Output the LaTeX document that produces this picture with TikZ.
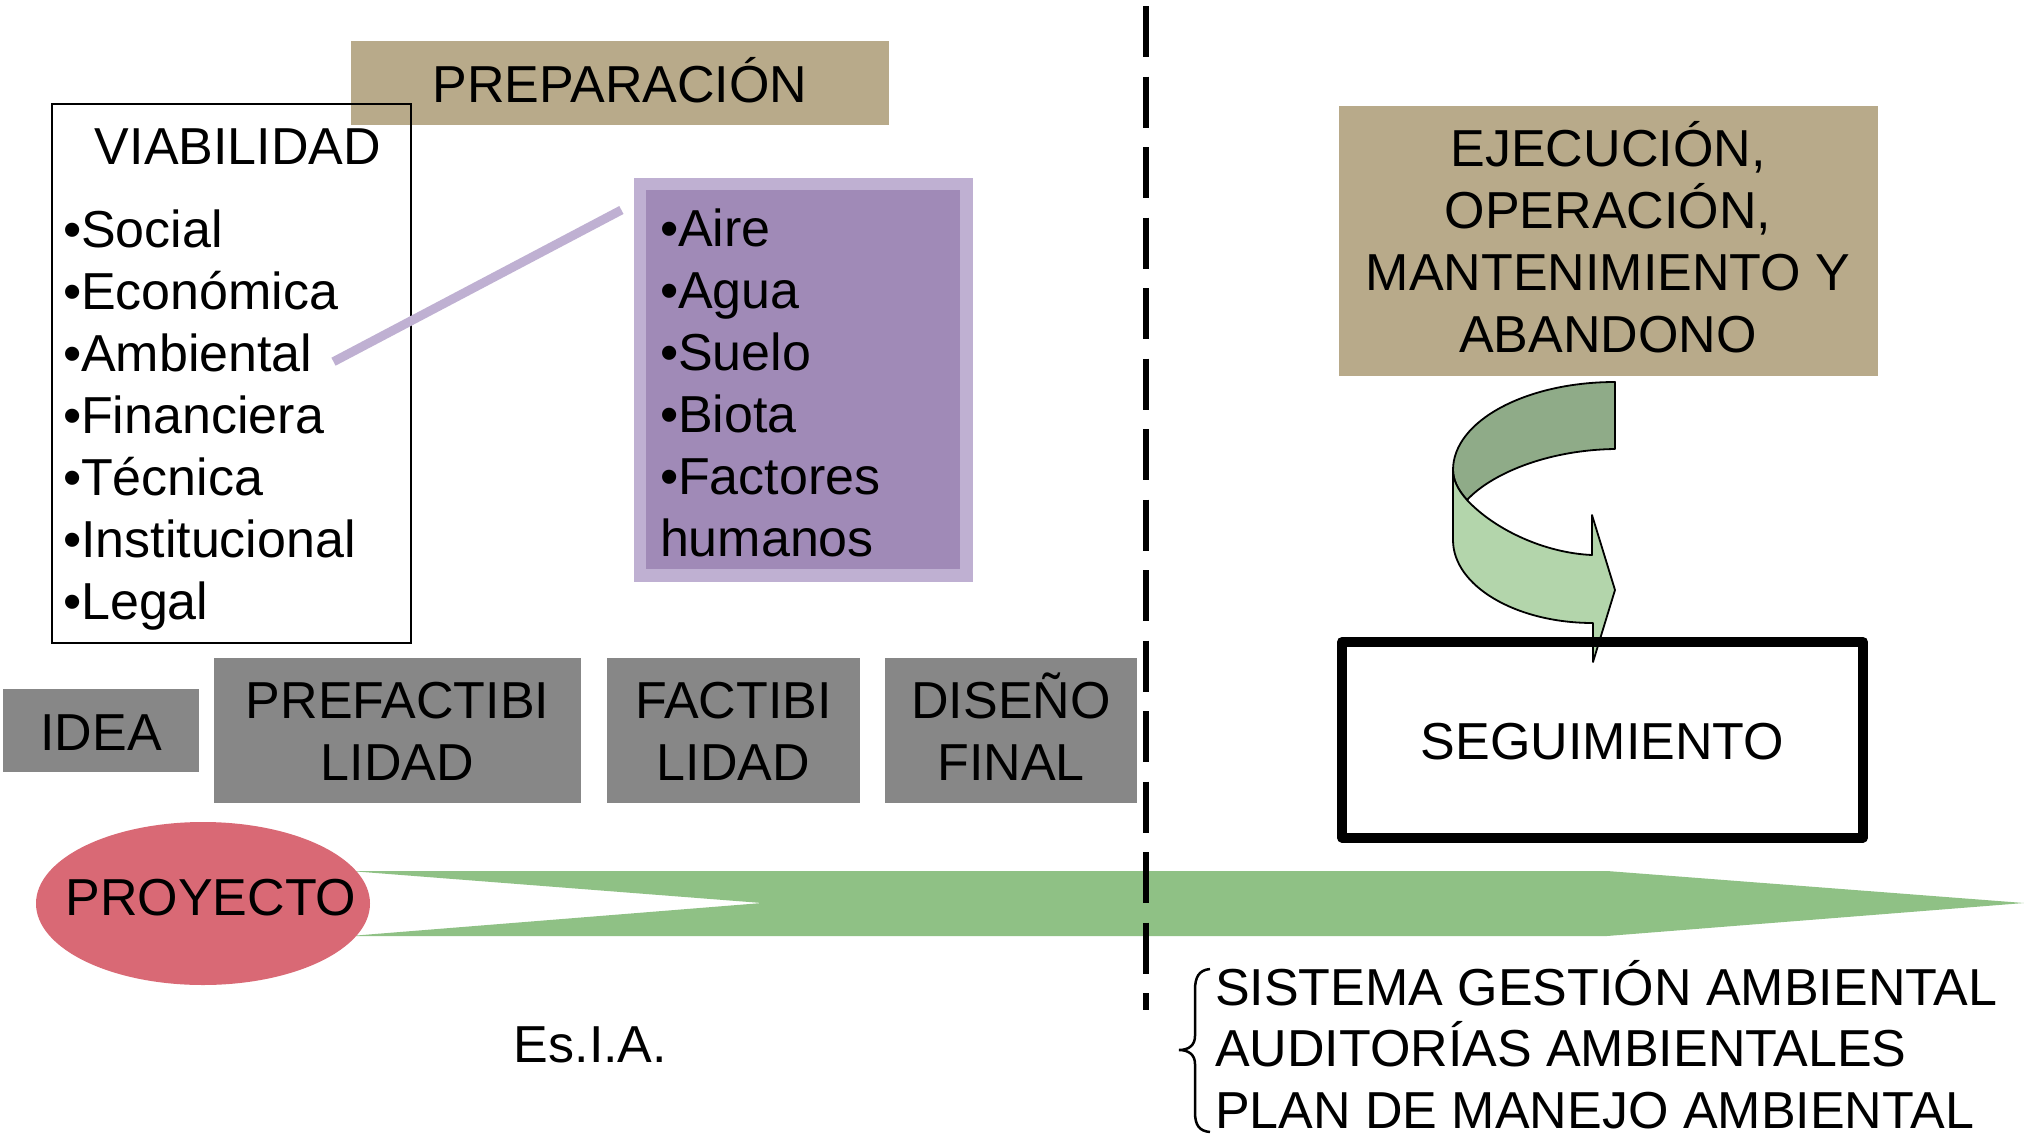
\documentclass[tikz,border=0pt]{standalone}
\usepackage{fontspec}
\setmainfont{Liberation Sans}
\usetikzlibrary{shapes.geometric}
\definecolor{tanc}{HTML}{B8AA8A}
\definecolor{grayb}{HTML}{878787}
\definecolor{purfill}{HTML}{A08AB7}
\definecolor{purline}{HTML}{BFB0D2}
\definecolor{proyc}{HTML}{D96975}
\definecolor{grarrow}{HTML}{8FC185}
\definecolor{darkband}{HTML}{8FAB88}
\definecolor{lightband}{HTML}{B3D5AB}
\begin{document}
\begin{tikzpicture}[x=1pt,y=-1pt,
  txt/.style={font=\fontsize{52}{62}\selectfont, inner sep=0pt, outer sep=0pt, text=black},
  box/.style={inner sep=0pt, outer sep=0pt},
  tanbox/.style={box, fill=tanc},
  graybox/.style={box, fill=grayb, minimum height=145pt},
  band/.style={draw=black, line width=1.8pt, line join=round},
]
\fill[white] (0,0) rectangle (2024,1135);
\useasboundingbox (0,0) rectangle (2024,1135);

% PREPARACION
\node[tanbox, minimum width=538pt, minimum height=84pt] (prep) at (620,83) {};
\node[txt, anchor=base] (prept) at (620,102) {PREPARACIÓN};

% VIABILIDAD box
\node[box, draw=black, line width=2pt, minimum width=359pt, minimum height=539pt] (viab) at (231.5,373.5) {};
\node[txt, anchor=base] (viabt) at (238,164) {VIABILIDAD};
\foreach \t [count=\i] in {•Social,•Económica,•Ambiental,•Financiera,•Técnica,•Institucional,•Legal}
  \node[txt, anchor=base west] (v\i) at (63,{247+62*(\i-1)}) {\t};

% purple box
\node[box, fill=purfill, draw=purline, line width=12.5pt, minimum width=326.5pt, minimum height=391.5pt] (pur) at (803.25,379.75) {};
\foreach \t [count=\i] in {•Aire,•Agua,•Suelo,•Biota,•Factores,humanos}
  \node[txt, anchor=base west] (p\i) at (660,{246+62*(\i-1)}) {\t};

% connector
\coordinate (ambend) at (333.5,361.7);
\coordinate (purend) at (621.4,210);
\draw[purline, line width=9pt] (ambend) -- (purend);

% gray boxes
\node[box, fill=grayb, minimum width=196pt, minimum height=83pt] (idea) at (101,730.5) {};
\node[txt, anchor=base] (ideat) at (101,750) {IDEA};
\node[graybox, minimum width=367pt] (pref) at (397.5,730.5) {};
\node[txt, anchor=base] (preft1) at (397.5,718) {PREFACTIBI};
\node[txt, anchor=base] (preft2) at (397.5,780) {LIDAD};
\node[graybox, minimum width=253pt] (fact) at (733.5,730.5) {};
\node[txt, anchor=base] (factt1) at (733.5,718) {FACTIBI};
\node[txt, anchor=base] (factt2) at (733.5,780) {LIDAD};
\node[graybox, minimum width=252pt] (dise) at (1011,730.5) {};
\node[txt, anchor=base] (diset1) at (1011,718) {DISEÑO};
\node[txt, anchor=base] (diset2) at (1011,780) {FINAL};

% green arrow
\fill[grarrow] (350,871) -- (1607,871) -- (2024,903) -- (1607,936) -- (350,936) -- (762,903) -- cycle;

% project ellipse
\node[ellipse, fill=proyc, minimum width=334pt, minimum height=163pt, inner sep=0pt] (proy) at (203,903.5) {};
\node[txt, anchor=base] (proyt) at (211,915) {PROYECTO};

% dashed divider
\coordinate (dtop) at (1146,6);
\coordinate (dbot) at (1146,1010);
\draw[line width=6.5pt, dash pattern=on 51pt off 19.5pt] (dtop) -- (dbot);

% Es.I.A.
\node[txt, anchor=base] (esia) at (590.5,1062) {Es.I.A.};

% EJECUCION box
\node[tanbox, minimum width=538.5pt, minimum height=270pt] (ejec) at (1608.25,241) {};
\node[txt, anchor=base] (ej1) at (1608,166) {EJECUCIÓN,};
\node[txt, anchor=base] (ej2) at (1608,228) {OPERACIÓN,};
\node[txt, anchor=base] (ej3) at (1608,290) {MANTENIMIENTO Y};
\node[txt, anchor=base] (ej4) at (1608,352) {ABANDONO};

% curved arrow
\filldraw[band, fill=darkband] (1615,382) -- (1615,449)
  .. controls (1545,450) and (1490,475) .. (1467,500)
  .. controls (1458,490) and (1453,480) .. (1453,470)
  .. controls (1453,421) and (1526,382) .. (1615,382) -- cycle;
\filldraw[band, fill=lightband] (1453,470) -- (1453,540)
  .. controls (1453,586) and (1516,623) .. (1593,623)
  -- (1593,662) -- (1615,590) -- (1592,515) -- (1592,555)
  .. controls (1545,553) and (1495,530) .. (1467,500)
  .. controls (1458,490) and (1453,480) .. (1453,470) -- cycle;

% SEGUIMIENTO box
\node[box, draw=black, line width=10pt, line join=round, minimum width=521pt, minimum height=195.5pt] (seg) at (1602.5,739.75) {};
\node[txt, anchor=base] (segt) at (1602.5,759) {SEGUIMIENTO};

% brace and list
\draw[line width=2.5pt] (1210,969) .. controls (1199,970) and (1195,977) .. (1195,990)
  -- (1195,1036) .. controls (1195,1045) and (1189,1050) .. (1179,1050)
  .. controls (1189,1050) and (1195,1055) .. (1195,1064)
  -- (1195,1112) .. controls (1195,1125) and (1199,1131) .. (1210,1132);
\node[txt, anchor=base west] (l1) at (1215,1005) {SISTEMA GESTIÓN AMBIENTAL};
\node[txt, anchor=base west] (l2) at (1215,1066.5) {AUDITORÍAS AMBIENTALES};
\node[txt, anchor=base west] (l3) at (1215,1128) {PLAN DE MANEJO AMBIENTAL};
\end{tikzpicture}
\end{document}
